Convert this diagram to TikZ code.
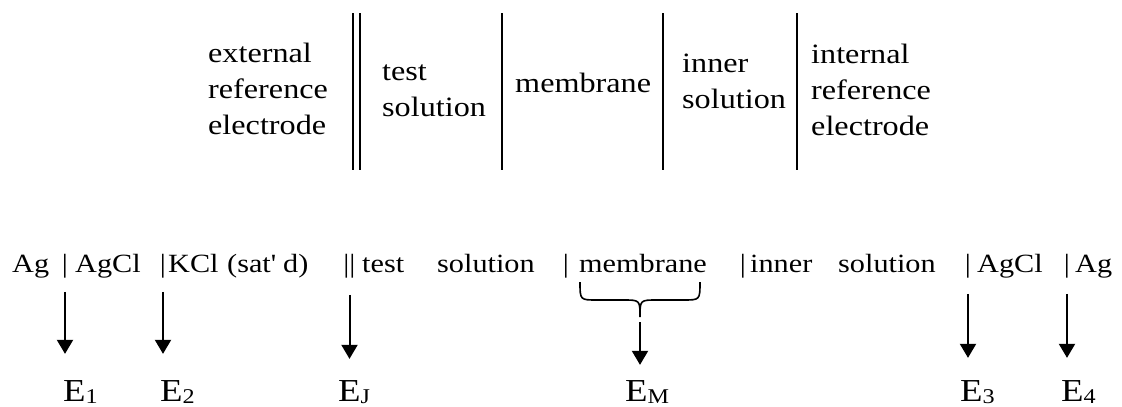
\documentclass[tikz,border=0pt]{standalone}
\usepackage{fontspec}
\setmainfont{Liberation Serif}[FakeStretch=1.15]
\usetikzlibrary{arrows.meta}

\newcommand{\potsub}[1]{\raisebox{-2pt}{\fontsize{21}{21}\selectfont #1}}

\tikzset{
  topcell/.style={font={\fontsize{28}{36}\selectfont}, align=left, anchor=base west, inner sep=0pt},
  cell/.style={font={\fontsize{26.3}{30}\selectfont}, anchor=base west, inner sep=0pt},
  bar/.style={cell, anchor=base},
  potlabel/.style={font={\fontsize{32}{36}\selectfont}, anchor=base west, inner sep=0pt},
  wall/.style={line width=1.8pt},
  potarrow/.style={line width=2pt, -{Triangle[width=16pt,length=14pt]}, shorten <=14pt, shorten >=26pt},
  brace/.style={line width=1.6pt}
}

\begin{document}
\begin{tikzpicture}[x=1pt,y=-1pt]
\useasboundingbox (0,0) rectangle (1122,407);
% cell scheme (base = last line)
\node [topcell] (extref) at (208,134) {external\\reference\\electrode};
\node [topcell] (testsol) at (382,116) {test\\solution};
\node [topcell] (memtop) at (515,92) {membrane};
\node [topcell] (innsol) at (682,108) {inner\\solution};
\node [topcell] (intref) at (811,135) {internal\\reference\\electrode};
\draw [wall] (353,13) -- (353,170);
\draw [wall] (360,13) -- (360,170);
\draw [wall] (502,13) -- (502,170);
\draw [wall] (663,13) -- (663,170);
\draw [wall] (797,13) -- (797,170);
% cell notation
\node [cell] (ag1) at (12,272) {Ag};
\node [bar] (b1) at (65,272) {|};
\node [cell] (agcl1) at (75,272) {AgCl};
\node [bar] (b2) at (163,272) {|};
\node [cell] (kcl) at (168,272) {KCl};
\node [cell] (sat) at (227,272) {(sat\textquotesingle{} d)};
\node [bar] (bJ) at (349.5,272) {||};
\node [cell] (test) at (362,272) {test};
\node [cell] (sol1) at (437,272) {solution};
\node [bar] (b3) at (566,272) {|};
\node [cell] (mem) at (579,272) {membrane};
\node [bar] (b4) at (743,272) {|};
\node [cell] (inner) at (750,272) {inner};
\node [cell] (sol2) at (838,272) {solution};
\node [bar] (b5) at (968,272) {|};
\node [cell] (agcl2) at (977,272) {AgCl};
\node [bar] (b6) at (1067,272) {|};
\node [cell] (ag2) at (1075,272) {Ag};
% potentials
\node [potlabel] (e1) at (63,401) {E\potsub{1}};
\node [potlabel] (e2) at (160,401) {E\potsub{2}};
\node [potlabel] (eJ) at (338,401) {E\potsub{J}};
\node [potlabel] (eM) at (625,401) {E\potsub{M}};
\node [potlabel] (e3) at (960,401) {E\potsub{3}};
\node [potlabel] (e4) at (1061,401) {E\potsub{4}};
\draw [potarrow] (b1.south) -- (b1.south |- e1.north);
\draw [potarrow] (b2.south) -- (b2.south |- e2.north);
\draw [potarrow, shorten <=17pt, shorten >=21pt] (bJ.south) -- (bJ.south |- eJ.north);
\draw [potarrow, shorten <=16pt, shorten >=22pt] (b5.south) -- (b5.south |- e3.north);
\draw [potarrow, shorten <=16pt, shorten >=22pt] (b6.south) -- (b6.south |- e4.north);
% brace under membrane
\draw [brace] (580,282) .. controls (580,300) .. (597,300) -- (623,300)
  .. controls (640,300) .. (640,317) .. controls (640,300) .. (657,300)
  -- (683,300) .. controls (700,300) .. (700,282);
\coordinate (memtip) at (640,317);
\draw [potarrow, shorten <=5pt, shorten >=15pt] (memtip) -- (memtip |- eM.north);
\end{tikzpicture}
\end{document}
